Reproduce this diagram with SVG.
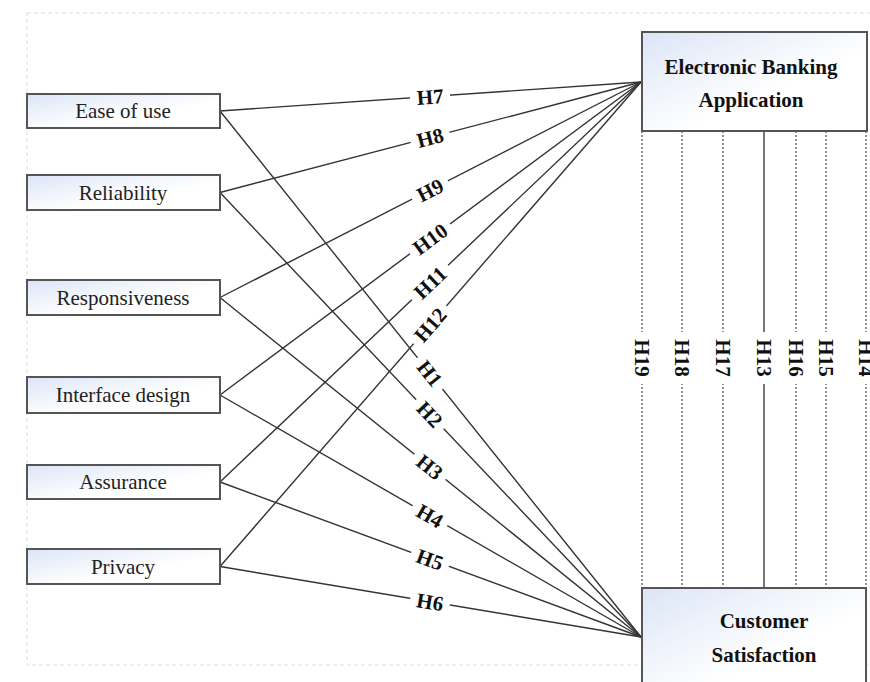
<svg xmlns="http://www.w3.org/2000/svg" width="870" height="682" viewBox="0 0 870 682">
<defs>
<linearGradient id="bg" x1="0" y1="0" x2="1" y2="1">
<stop offset="0" stop-color="#dce5f6"/>
<stop offset="0.6" stop-color="#ffffff"/>
</linearGradient>
<style>
.box{fill:url(#bg);stroke:#555;stroke-width:2}
.lt{font-family:"Liberation Serif","Times New Roman",serif;font-size:21px;fill:#222;text-anchor:middle}
.bt{font-family:"Liberation Serif","Times New Roman",serif;font-size:21px;font-weight:bold;fill:#111;text-anchor:middle}
.el{font-family:"Liberation Serif","Times New Roman",serif;font-size:21px;font-weight:bold;fill:#111;text-anchor:middle}
.ln{stroke:#333;stroke-width:1.4;fill:none}
.dt{stroke:#777;stroke-width:1.6;stroke-dasharray:2 2;fill:none}
.sl{stroke:#777;stroke-width:2;fill:none}
.lb{fill:#fff}
</style>
</defs>
<rect width="870" height="682" fill="#fff"/>
<rect x="27" y="13" width="900" height="652" fill="none" stroke="#ddd" stroke-width="1" stroke-dasharray="4 3"/>

<g id="connectors">
<line class="ln" x1="220" y1="111" x2="641" y2="82"/>
<line class="ln" x1="220" y1="192.5" x2="641" y2="82"/>
<line class="ln" x1="220" y1="297.5" x2="641" y2="82"/>
<line class="ln" x1="220" y1="395" x2="641" y2="82"/>
<line class="ln" x1="220" y1="482" x2="641" y2="82"/>
<line class="ln" x1="220" y1="566.5" x2="641" y2="82"/>
<line class="ln" x1="220" y1="111" x2="641" y2="637"/>
<line class="ln" x1="220" y1="192.5" x2="641" y2="637"/>
<line class="ln" x1="220" y1="297.5" x2="641" y2="637"/>
<line class="ln" x1="220" y1="395" x2="641" y2="637"/>
<line class="ln" x1="220" y1="482" x2="641" y2="637"/>
<line class="ln" x1="220" y1="566.5" x2="641" y2="637"/>
<line class="dt" x1="642" y1="131" x2="642" y2="588"/>
<line class="dt" x1="682" y1="131" x2="682" y2="588"/>
<line class="dt" x1="723" y1="131" x2="723" y2="588"/>
<line class="sl" x1="764" y1="131" x2="764" y2="588"/>
<line class="dt" x1="796" y1="131" x2="796" y2="588"/>
<line class="dt" x1="826" y1="131" x2="826" y2="588"/>
<line class="dt" x1="866" y1="131" x2="866" y2="588"/>

<g transform="translate(430,96.5) rotate(-3.94)"><rect class="lb" x="-20" y="-10" width="40" height="20"/><text class="el" y="7.5">H7</text></g>
<g transform="translate(430,137.4) rotate(-14.71)"><rect class="lb" x="-20" y="-10" width="40" height="20"/><text class="el" y="7.5">H8</text></g>
<g transform="translate(430,190) rotate(-27.11)"><rect class="lb" x="-20" y="-10" width="40" height="20"/><text class="el" y="7.5">H9</text></g>
<g transform="translate(430,238.9) rotate(-36.63)"><rect class="lb" x="-25" y="-10" width="50" height="20"/><text class="el" y="7.5">H10</text></g>
<g transform="translate(430,282.5) rotate(-43.53)"><rect class="lb" x="-25" y="-10" width="50" height="20"/><text class="el" y="7.5">H11</text></g>
<g transform="translate(430,324.8) rotate(-49.01)"><rect class="lb" x="-25" y="-10" width="50" height="20"/><text class="el" y="7.5">H12</text></g>
<g transform="translate(430,373.4) rotate(51.33)"><rect class="lb" x="-20" y="-10" width="40" height="20"/><text class="el" y="7.5">H1</text></g>
<g transform="translate(430,414.2) rotate(46.56)"><rect class="lb" x="-20" y="-10" width="40" height="20"/><text class="el" y="7.5">H2</text></g>
<g transform="translate(430,466.8) rotate(38.88)"><rect class="lb" x="-20" y="-10" width="40" height="20"/><text class="el" y="7.5">H3</text></g>
<g transform="translate(430,515.7) rotate(29.89)"><rect class="lb" x="-20" y="-10" width="40" height="20"/><text class="el" y="7.5">H4</text></g>
<g transform="translate(430,559.3) rotate(20.21)"><rect class="lb" x="-20" y="-10" width="40" height="20"/><text class="el" y="7.5">H5</text></g>
<g transform="translate(430,601.7) rotate(9.51)"><rect class="lb" x="-20" y="-10" width="40" height="20"/><text class="el" y="7.5">H6</text></g>

<g transform="translate(642,358) rotate(90)"><rect class="lb" x="-26" y="-9" width="52" height="18"/><text class="el" y="7.5">H19</text></g>
<g transform="translate(682,358) rotate(90)"><rect class="lb" x="-26" y="-9" width="52" height="18"/><text class="el" y="7.5">H18</text></g>
<g transform="translate(723,358) rotate(90)"><rect class="lb" x="-26" y="-9" width="52" height="18"/><text class="el" y="7.5">H17</text></g>
<g transform="translate(764,358) rotate(90)"><rect class="lb" x="-26" y="-9" width="52" height="18"/><text class="el" y="7.5">H13</text></g>
<g transform="translate(796,358) rotate(90)"><rect class="lb" x="-26" y="-9" width="52" height="18"/><text class="el" y="7.5">H16</text></g>
<g transform="translate(826,358) rotate(90)"><rect class="lb" x="-26" y="-9" width="52" height="18"/><text class="el" y="7.5">H15</text></g>
<g transform="translate(866,358) rotate(90)"><rect class="lb" x="-26" y="-9" width="52" height="18"/><text class="el" y="7.5">H14</text></g>
</g>

<g id="ease"><rect class="box" x="27" y="94" width="193" height="34"/><text class="lt" x="123" y="118">Ease of use</text></g>
<g id="reliability"><rect class="box" x="27" y="175" width="193" height="35"/><text class="lt" x="123" y="199.5">Reliability</text></g>
<g id="responsiveness"><rect class="box" x="27" y="280" width="193" height="35"/><text class="lt" x="123" y="304.5">Responsiveness</text></g>
<g id="interface"><rect class="box" x="27" y="377" width="193" height="36"/><text class="lt" x="123" y="402">Interface design</text></g>
<g id="assurance"><rect class="box" x="27" y="465" width="193" height="34"/><text class="lt" x="123" y="489">Assurance</text></g>
<g id="privacy"><rect class="box" x="27" y="549" width="193" height="35"/><text class="lt" x="123" y="573.5">Privacy</text></g>

<g id="eba"><rect class="box" x="642" y="32" width="225" height="99"/><text class="bt" x="751" y="74">Electronic Banking</text><text class="bt" x="751" y="107">Application</text></g>
<g id="cs"><rect class="box" x="642" y="588" width="224" height="110"/><text class="bt" x="764" y="628">Customer</text><text class="bt" x="764" y="662">Satisfaction</text></g>
</svg>
